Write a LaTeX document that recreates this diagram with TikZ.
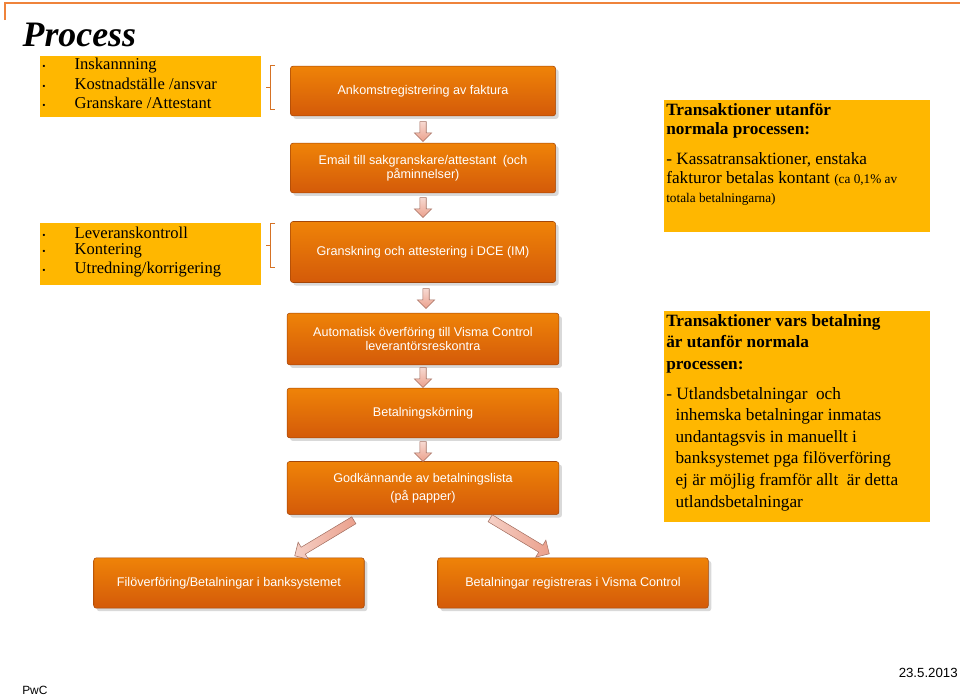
\documentclass[tikz,border=0pt]{standalone}
\usepackage{fontspec}
\setmainfont{Liberation Serif}
\setsansfont{Liberation Sans}
\usetikzlibrary{shapes.arrows,shadows}
\definecolor{boxorange}{RGB}{235,100,10}
\definecolor{boxyellow}{RGB}{255,183,0}
\definecolor{arrowpink}{RGB}{235,160,140}
\tikzset{
  stepbox/.style={draw=boxorange!70!black,top color=boxorange!80!yellow,bottom color=boxorange!90!black,
    rounded corners=2pt,minimum width=200pt,minimum height=37.5pt,align=center,text=white,
    font=\sffamily\fontsize{9.5}{10.5}\selectfont,drop shadow={opacity=0.3}},
  downarrow/.style={single arrow,draw=arrowpink!70!black,top color=white!60!arrowpink,bottom color=arrowpink,
    minimum height=15pt,minimum width=13pt,single arrow head extend=2pt,inner sep=1pt,shape border rotate=270},
  bigarrow/.style={single arrow,draw=arrowpink!70!black,left color=white!50!arrowpink,right color=arrowpink,
    minimum height=52pt,minimum width=15pt,single arrow head extend=2.5pt,inner sep=1.5pt},
  bullettext/.style={anchor=west,font=\fontsize{12.5}{13}\selectfont,inner sep=0pt}
}
\begin{document}
\begin{tikzpicture}[x=0.0265cm,y=-0.0265cm]
\useasboundingbox (0,0) rectangle (960,697);
% frame
\draw[boxorange!80,line width=0.8pt] (5,20) -- (5,3) -- (960,3);
\node[anchor=west,font=\bfseries\itshape\fontsize{27}{30}\selectfont] (title) at (18,35) {Process};

% left notes
\fill[boxyellow] (40,56) rectangle (261,117);
\fill[boxyellow] (40,223) rectangle (261,285);
\foreach \txt [count=\i] in {Inskannning,Kostnadställe /ansvar,Granskare /Attestant}
  \node[bullettext] (bulA\i) at (42,47+18.5*\i) {{\fontsize{7}{8}\selectfont\textbullet}\hspace{22pt}\txt};
\foreach \txt [count=\i] in {Leveranskontroll,Kontering,Utredning/korrigering}
  \node[bullettext] (bulB\i) at (42,214+18.5*\i) {{\fontsize{7}{8}\selectfont\textbullet}\hspace{22pt}\txt};
\draw[boxorange!50!brown,thin] (275,65) -- (270,65) -- (270,109) -- (275,109);
\draw[boxorange!50!brown,thin] (270,87) -- (266,87);
\draw[boxorange!50!brown,thin] (275,223) -- (270,223) -- (270,267) -- (275,267);
\draw[boxorange!50!brown,thin] (270,245) -- (266,245);

% process boxes
\node[stepbox] (ankomst) at (423,91) {Ankomstregistrering av faktura};
\node[stepbox] (email) at (423,168) {Email till sakgranskare/attestant\enspace(och\\påminnelser)};
\node[stepbox,minimum height=46pt] (granskning) at (423,252) {Granskning och attestering i DCE (IM)};
\node[stepbox,minimum width=205pt,minimum height=39pt] (overforing) at (423,339) {Automatisk överföring till Visma Control\\leverantörsreskontra};
\node[stepbox,minimum width=205pt] (korning) at (423,413) {Betalningskörning};
\node[stepbox,minimum width=205pt,minimum height=40pt] (godkann) at (423,488) {Godkännande av betalningslista\\[3pt](på papper)};
\node[stepbox,minimum width=204pt,minimum height=38pt] (filover) at (229,583) {Filöverföring/Betalningar i banksystemet};
\node[stepbox,minimum width=204pt,minimum height=38pt] (registr) at (573,583) {Betalningar registreras i Visma Control};

% arrows
\node[downarrow] (a1) at (423,130) {};
\node[downarrow] (a2) at (423,206) {};
\node[downarrow] (a3) at (426,297) {};
\node[downarrow] (a4) at (423,376) {};
\node[downarrow] (a5) at (423,450) {};
\node[bigarrow,rotate=-149] (a6) at (326,537) {};
\node[bigarrow,rotate=-31] (a7) at (518,535) {};

% right notes
\fill[boxyellow] (664,100) rectangle (930,232);
\node[anchor=north west,align=left,inner sep=0pt,font=\fontsize{13}{14.5}\selectfont] (utanfor) at (666,103)
  {\textbf{Transaktioner utanför}\\\textbf{normala processen:}\\[8pt]
   - Kassatransaktioner, enstaka\\fakturor betalas kontant {\fontsize{10}{12}\selectfont(ca 0,1\% av}\\{\fontsize{10}{12}\selectfont totala betalningarna)}};
\fill[boxyellow] (664,311) rectangle (930,522);
\node[anchor=north west,align=left,inner sep=0pt,font=\fontsize{13}{16.3}\selectfont] (betalning) at (666,314)
  {\textbf{Transaktioner vars betalning}\\\textbf{är utanför normala}\\\textbf{processen:}\\[6pt]
   - Utlandsbetalningar\enspace och\\\hspace*{7pt}inhemska betalningar inmatas\\\hspace*{7pt}undantagsvis in manuellt i\\\hspace*{7pt}banksystemet pga filöverföring\\\hspace*{7pt}ej är möjlig framför allt\enspace är detta\\\hspace*{7pt}utlandsbetalningar};

% footer
\node[anchor=west,font=\sffamily\fontsize{9}{10}\selectfont,inner sep=0pt] (pwc) at (22,690) {PwC};
\node[anchor=east,font=\sffamily\fontsize{10}{11}\selectfont,inner sep=0pt] (datum) at (958,673) {23.5.2013};
\end{tikzpicture}
\end{document}
